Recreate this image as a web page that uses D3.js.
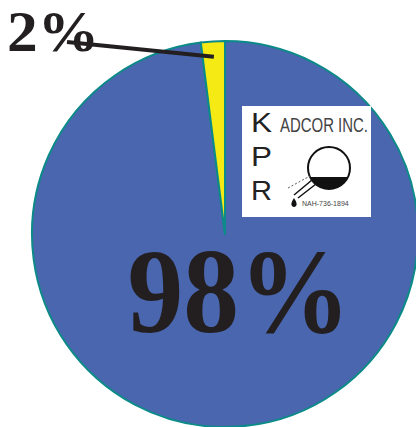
<!DOCTYPE html>
<html>
<head>
<meta charset="utf-8">
<script src="https://cdn.jsdelivr.net/npm/d3@7"></script>
<style>
  html, body { margin: 0; padding: 0; background: #ffffff; }
  svg { display: block; }
</style>
</head>
<body>
<div id="chart"></div>
<script>
// chart data
const categories = ["Others", "KPR Adcor"];
const shares = [98, 2];
const labels = ["98%", "2%"];
const sliceColors = ["#4a66ae", "#f5ea14"];

const width = 416, height = 427;
const cx = 225, cy = 234, radius = 193;

const svg = d3.select("#chart")
  .append("svg")
  .attr("width", width)
  .attr("height", height);

const pie = d3.pie().sort(null).value(d => d);
const arcs = pie(shares);

const arc = d3.arc().innerRadius(0).outerRadius(radius);
const g = svg.append("g")
  .attr("transform", "translate(" + cx + "," + cy + ")");

g.selectAll("path.slice")
  .data(arcs)
  .enter()
  .append("path")
  .attr("class", "slice")
  .attr("d", arc)
  .attr("fill", (d, i) => sliceColors[i])
  .attr("stroke", "#0b8a88")
  .attr("stroke-width", 2)
  .attr("stroke-linejoin", "round");

// big label for the large slice
g.append("text")
  .attr("x", 14)
  .attr("y", 98)
  .attr("text-anchor", "middle")
  .attr("font-family", "'Liberation Serif', 'Times New Roman', serif")
  .attr("font-weight", "bold")
  .attr("font-size", 120)
  .attr("textLength", 223)
  .attr("lengthAdjust", "spacingAndGlyphs")
  .attr("fill", "#231f20")
  .text(labels[0]);

// small slice label with leader line
const small = arcs[1];
const leaderArc = d3.arc().innerRadius(radius * 0.92).outerRadius(radius * 0.92);
const pOut = leaderArc.centroid(small);

svg.append("text")
  .attr("x", 7)
  .attr("y", 51)
  .attr("font-family", "'Liberation Serif', 'Times New Roman', serif")
  .attr("font-weight", "bold")
  .attr("font-size", 56)
  .attr("textLength", 92)
  .attr("lengthAdjust", "spacingAndGlyphs")
  .attr("fill", "#231f20")
  .text(labels[1]);

svg.append("line")
  .attr("x1", 67)
  .attr("y1", 42)
  .attr("x2", cx + pOut[0])
  .attr("y2", cy + pOut[1])
  .attr("stroke", "#231f20")
  .attr("stroke-width", 4);

// logo box
const logo = svg.append("g").attr("transform", "translate(242,106)");
logo.append("rect")
  .attr("width", 129)
  .attr("height", 111)
  .attr("fill", "#ffffff");

["K", "P", "R"].forEach((ch, i) => {
  logo.append("text")
    .attr("x", 9)
    .attr("y", 26 + i * 34)
    .attr("font-family", "'Liberation Sans', Arial, sans-serif")
    .attr("font-size", 27)
    .attr("textLength", 21)
    .attr("lengthAdjust", "spacingAndGlyphs")
    .attr("fill", "#222")
    .text(ch);
});

logo.append("text")
  .attr("x", 38)
  .attr("y", 26)
  .attr("font-family", "'Liberation Sans Narrow', 'Liberation Sans', Arial, sans-serif")
  .attr("font-size", 21)
  .attr("textLength", 88)
  .attr("lengthAdjust", "spacingAndGlyphs")
  .attr("fill", "#444")
  .text("ADCOR INC.");

// flask
const fx = 87, fy = 62, fr = 21;
logo.append("clipPath").attr("id", "flaskClip")
  .append("rect").attr("x", fx - fr).attr("y", fy + 9).attr("width", fr * 2).attr("height", fr);
logo.append("circle")
  .attr("cx", fx).attr("cy", fy).attr("r", fr)
  .attr("fill", "#111")
  .attr("clip-path", "url(#flaskClip)");
logo.append("circle")
  .attr("cx", fx).attr("cy", fy).attr("r", fr)
  .attr("fill", "none")
  .attr("stroke", "#111")
  .attr("stroke-width", 2);
logo.append("path")
  .attr("d", "M70,74 L52,89 M74,78 L56,92")
  .attr("stroke", "#111")
  .attr("stroke-width", 1.5)
  .attr("fill", "none");
logo.append("line")
  .attr("x1", 46).attr("y1", 82).attr("x2", 68).attr("y2", 70)
  .attr("stroke", "#555")
  .attr("stroke-width", 1)
  .attr("stroke-dasharray", "2,2");
logo.append("path")
  .attr("d", "M52,92 Q48,98 50,100 Q52,102 54,100 Q56,98 52,92 Z")
  .attr("fill", "#111");
logo.append("text")
  .attr("x", 60)
  .attr("y", 100)
  .attr("font-family", "'Liberation Sans Narrow', 'Liberation Sans', Arial, sans-serif")
  .attr("font-size", 7)
  .attr("fill", "#444")
  .text("NAH-736-1894");
</script>
</body>
</html>
